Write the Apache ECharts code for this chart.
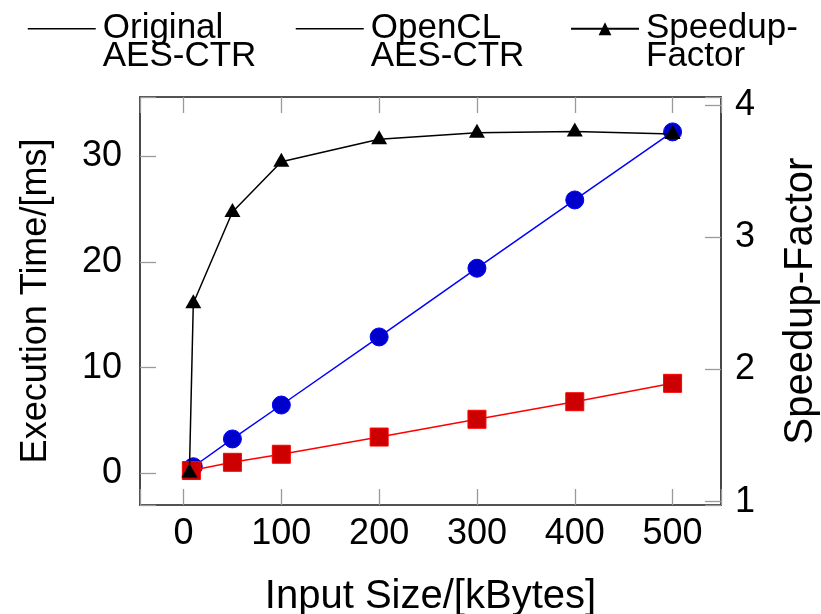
<!DOCTYPE html>
<html>
<head>
<meta charset="utf-8">
<script src="https://cdn.jsdelivr.net/npm/echarts@6/dist/echarts.min.js"></script>
<style>
html,body{margin:0;padding:0;background:#fff;}
#chart{width:821px;height:614px;}
</style>
</head>
<body>
<div id="chart"></div>
<script>
// ---- data ----
var seriesNames = ['Original AES-CTR', 'OpenCL AES-CTR', 'Speedup- Factor'];
var sizesOriginal = [10, 50, 100, 200, 300, 400, 500];
var timeOriginal = [0.62, 3.25, 6.46, 12.9, 19.4, 25.86, 32.3];
var sizesOpenCL = [8, 50, 100, 200, 300, 400, 500];
var timeOpenCL = [0.26, 1.04, 1.80, 3.43, 5.11, 6.77, 8.51];
var sizesSpeedup = [6, 10, 50, 100, 200, 300, 400, 500];
var speedup = [1.22, 2.50, 3.19, 3.57, 3.74, 3.79, 3.80, 3.78];
var xTickStep = 100, yLeftStep = 10, yRightStep = 1;
var xTitle = 'Input Size/[kBytes]';
var yLeftTitle = 'Execution Time/[ms]';
var yRightTitle = 'Speedup-Factor';

function pairs(xs, ys) { return xs.map(function (x, i) { return [x, ys[i]]; }); }
function stepFmt(step) {
  return function (v) {
    var r = Math.round(v / step) * step;
    return Math.abs(v - r) < 1e-6 ? String(Math.round(r)) : '';
  };
}
// leading blank line so the first text line sits level with the legend icon
function legendName(n) { return '\n' + n.replace(' ', '\n'); }

var FONT = 'Liberation Sans';
var frame = { onZero: false, lineStyle: { color: '#1a1a1a', width: 1.6 } };
var tick = { show: true, inside: true, length: 16, lineStyle: { color: '#9a9a9a', width: 1.3 } };

var LH = 27.5;
function makeLegend(idx, left) {
  var item = { name: seriesNames[idx] };
  if (idx < 2) {
    item.itemStyle = { color: 'transparent', borderColor: 'transparent', opacity: 0 };
    item.lineStyle = { color: '#000', width: 1.5 };
  }
  return {
    data: [item],
    left: left,
    top: 20 - 1.5 * LH,
    orient: 'horizontal',
    selectedMode: false,
    itemWidth: 68,
    itemHeight: 16,
    formatter: legendName,
    textStyle: { fontFamily: FONT, fontSize: 35, color: '#000', lineHeight: LH, padding: [0, 0, 0, 2] }
  };
}

var chart = echarts.init(document.getElementById('chart'), null, { renderer: 'canvas' });
chart.setOption({
  animation: false,
  backgroundColor: '#fff',
  textStyle: { fontFamily: FONT },
  legend: [makeLegend(0, 22), makeLegend(1, 290), makeLegend(2, 565)],
  grid: { left: 140, right: 100, top: 97, bottom: 109, containLabel: false, outerBoundsMode: 'none' },
  xAxis: [{
    type: 'value', min: -44.5, max: 549.5, splitNumber: 5, position: 'bottom',
    axisLine: frame, axisTick: tick, splitLine: { show: false },
    axisLabel: { formatter: stepFmt(xTickStep), fontSize: 36, color: '#000', margin: 11, fontFamily: FONT },
    name: xTitle, nameLocation: 'middle', nameGap: 72,
    nameTextStyle: { fontSize: 40, color: '#000', fontFamily: FONT }
  }, {
    type: 'value', min: -44.5, max: 549.5, splitNumber: 5, position: 'top',
    axisLine: frame, axisTick: tick, splitLine: { show: false },
    axisLabel: { show: false }
  }],
  yAxis: [{
    type: 'value', min: -3.0, max: 35.6, splitNumber: 4, position: 'left',
    axisLine: frame, axisTick: tick, splitLine: { show: false },
    axisLabel: { formatter: stepFmt(yLeftStep), fontSize: 36, color: '#000', margin: 18, fontFamily: FONT },
    name: yLeftTitle, nameLocation: 'middle', nameGap: 86, nameRotate: 90,
    nameTextStyle: { fontSize: 36, color: '#000', fontFamily: FONT }
  }, {
    type: 'value', min: 0.975, max: 4.06, splitNumber: 3, position: 'right',
    axisLine: frame, axisTick: tick, splitLine: { show: false },
    axisLabel: { formatter: stepFmt(yRightStep), fontSize: 36, color: '#000', margin: 14, fontFamily: FONT },
    name: yRightTitle, nameLocation: 'middle', nameGap: 60, nameRotate: 90,
    nameTextStyle: { fontSize: 40, color: '#000', fontFamily: FONT }
  }],
  series: [{
    name: seriesNames[0], type: 'line', xAxisIndex: 0, yAxisIndex: 0,
    data: pairs(sizesOriginal, timeOriginal),
    symbol: 'circle', symbolSize: 18,
    lineStyle: { color: '#0000ff', width: 1.5 },
    itemStyle: { color: '#0000cc', borderColor: '#0000ff', borderWidth: 1 },
    z: 2
  }, {
    name: seriesNames[1], type: 'line', xAxisIndex: 0, yAxisIndex: 0,
    data: pairs(sizesOpenCL, timeOpenCL),
    symbol: 'rect', symbolSize: 18,
    lineStyle: { color: '#ff0000', width: 1.5 },
    itemStyle: { color: '#cc0000', borderColor: '#ff0000', borderWidth: 1 },
    z: 3
  }, {
    name: seriesNames[2], type: 'line', xAxisIndex: 0, yAxisIndex: 1,
    data: pairs(sizesSpeedup, speedup),
    symbol: 'triangle', symbolSize: [16, 14], symbolOffset: [0, -2],
    lineStyle: { color: '#000', width: 1.5 },
    itemStyle: { color: '#000' },
    z: 4
  }]
});
</script>
</body>
</html>
